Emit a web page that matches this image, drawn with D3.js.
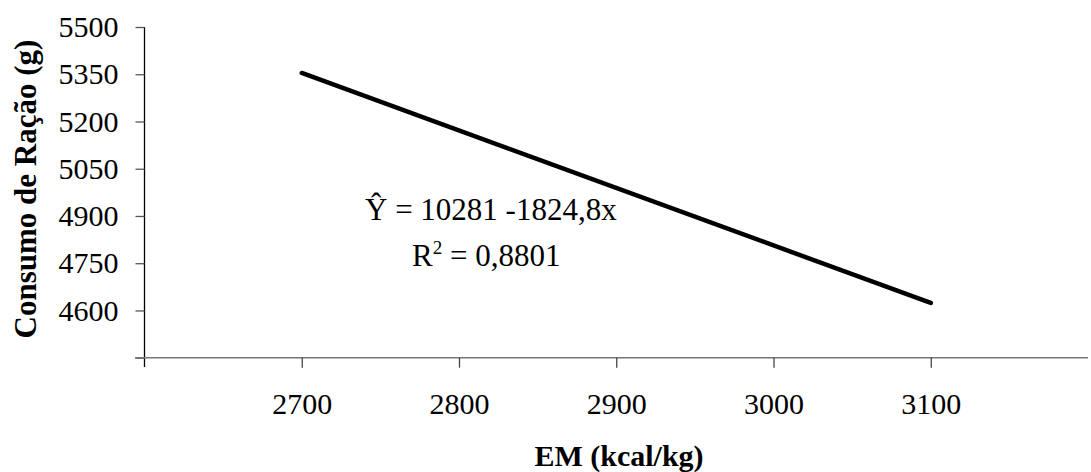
<!DOCTYPE html>
<html>
<head>
<meta charset="utf-8">
<script src="https://cdn.jsdelivr.net/npm/d3@7"></script>
<style>
  body { margin: 0; background: #fff; }
  text { font-family: "Liberation Serif", "Times New Roman", serif; fill: #000; }
</style>
</head>
<body>
<svg id="chart" width="1091" height="472"></svg>
<script>
// data
var xTicks = [2700, 2800, 2900, 3000, 3100];
var yTicks = [5500, 5350, 5200, 5050, 4900, 4750, 4600];
var emLevels = [2700, 3100];
var consumo = [5354, 4624];   // from Y = 10281 - 1824,8x
var eqText = "Ŷ = 10281 -1824,8x";
var r2Text = "0,8801";

var svg = d3.select("#chart");

var x = d3.scaleLinear().domain([2600, 3200]).range([144.5, 1088]);
var y = d3.scaleLinear().domain([4450, 5500]).range([357.7, 27]);

// y axis
var yAxis = d3.axisLeft(y).tickValues(yTicks.concat([4450])).tickSize(9).tickFormat(function(d){
  return d === 4450 ? "" : d;
});
var gy = svg.append("g").attr("transform", "translate(144.5,0)").call(yAxis);
gy.select(".domain").attr("d", "M0,27V367").attr("stroke", "#000").attr("stroke-width", 1.3);
gy.selectAll(".tick line").attr("stroke", "#555").attr("stroke-width", 1.3);
gy.selectAll(".tick text").attr("x", -26).style("font-size", "30px").style("font-family", "Liberation Serif");

// x axis
var xAxis = d3.axisBottom(x).tickValues(xTicks).tickSize(10).tickFormat(d3.format("d"));
var gx = svg.append("g").attr("transform", "translate(0,357.7)").call(xAxis);
gx.select(".domain").attr("d", "M135,0H1088").attr("stroke", "#777").attr("stroke-width", 1.5);
gx.selectAll(".tick line").attr("stroke", "#444").attr("stroke-width", 1.3);
gx.selectAll(".tick text").attr("y", 35).style("font-size", "30px").style("font-family", "Liberation Serif");

// the cut-off 4450 label: only a sliver shows
svg.append("clipPath").attr("id", "cut").append("rect")
  .attr("x", 52).attr("y", 353).attr("width", 8).attr("height", 8);
svg.append("text").attr("clip-path", "url(#cut)")
  .attr("x", 118.5).attr("y", y(4450) + 10)
  .attr("text-anchor", "end").style("font-size", "30px").text("4450");

// regression line
var line = d3.line().x(function(d){ return x(d[0]); }).y(function(d){ return y(d[1]); });
svg.append("path")
  .datum(d3.zip(emLevels, consumo))
  .attr("d", line)
  .attr("fill", "none")
  .attr("stroke", "#000")
  .attr("stroke-width", 4.5)
  .attr("stroke-linecap", "round");

// equation
svg.append("text").attr("x", 365).attr("y", 220).style("font-size", "31px").text(eqText);
var r2 = svg.append("text").attr("x", 412).attr("y", 266).style("font-size", "31px");
r2.append("tspan").text("R");
r2.append("tspan").attr("dy", -12).style("font-size", "19px").text("2");
r2.append("tspan").attr("dy", 12).text(" = " + r2Text);

// axis titles
svg.append("text")
  .attr("x", 619).attr("y", 466)
  .attr("text-anchor", "middle")
  .style("font-size", "30px").style("font-weight", "bold")
  .text("EM (kcal/kg)");

svg.append("text")
  .attr("transform", "translate(36,189) rotate(-90)")
  .attr("text-anchor", "middle")
  .style("font-size", "31px").style("font-weight", "bold")
  .text("Consumo de Ração (g)");
</script>
</body>
</html>
